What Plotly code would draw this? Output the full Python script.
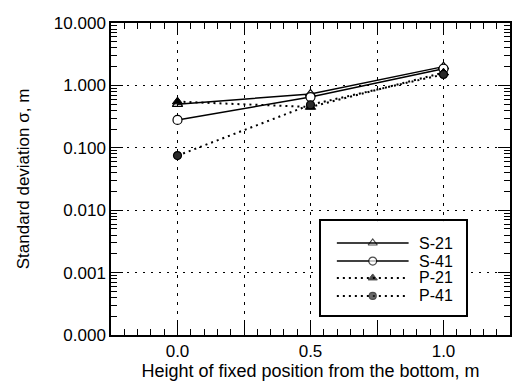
import plotly.graph_objects as go

# Measurement heights (m) and standard deviations (m)
heights = [0.0, 0.5, 1.0]
s21 = [0.50, 0.73, 2.00]
s41 = [0.28, 0.65, 1.85]
p21 = [0.55, 0.45, 1.60]
p41 = [0.075, 0.49, 1.50]

series_names = ["S-21", "S-41", "P-21", "P-41"]
series_values = [s21, s41, p21, p41]

x_tick_vals = [-0.25, 0.0, 0.25, 0.5, 0.75, 1.0, 1.25]
x_tick_text = ["", "0.0", "", "0.5", "", "1.0", ""]
y_tick_vals = [1e-4, 1e-3, 1e-2, 1e-1, 1e0, 1e1]
y_tick_text = ["0.000", "0.001", "0.010", "0.100", "1.000", "10.000"]

FONT = "Liberation Sans, Arial, Helvetica, sans-serif"

styles = {
    "S-21": dict(line=dict(color="black", width=1.5, dash="solid"),
                 marker=dict(symbol="triangle-up-open", size=9, color="black",
                             line=dict(color="black", width=1.2))),
    "S-41": dict(line=dict(color="black", width=1.5, dash="solid"),
                 marker=dict(symbol="circle", size=9, color="white",
                             line=dict(color="black", width=1.2))),
    "P-21": dict(line=dict(color="black", width=2, dash="2px,4px"),
                 marker=dict(symbol="triangle-up", size=9, color="black",
                             line=dict(color="black", width=1))),
    "P-41": dict(line=dict(color="black", width=2, dash="2px,4px"),
                 marker=dict(symbol="circle", size=8, color="#2a2a2a",
                             line=dict(color="black", width=1.2))),
}

fig = go.Figure()

for name, vals in zip(series_names, series_values):
    st = styles[name]
    fig.add_trace(go.Scatter(
        x=heights, y=vals, mode="lines+markers", name=name,
        line=st["line"], marker=st["marker"], showlegend=False,
        xaxis="x", yaxis="y",
    ))

# Invisible copy of one series so the minor-tick x axis gets drawn
fig.add_trace(go.Scatter(
    x=heights, y=s21, mode="markers", marker=dict(opacity=0),
    showlegend=False, hoverinfo="skip", xaxis="x3", yaxis="y",
))

# Legend drawn as its own small boxed subplot (local 0..1 coordinates)
leg_rows = [0.767, 0.575, 0.395, 0.203]
for name, ry in zip(series_names, leg_rows):
    st = styles[name]
    fig.add_trace(go.Scatter(
        x=[0.11, 0.357, 0.604], y=[ry, ry, ry], mode="lines+markers",
        line=st["line"],
        marker=dict(st["marker"], size=[0, st["marker"]["size"] - 1, 0]),
        showlegend=False, hoverinfo="skip", xaxis="x2", yaxis="y2",
    ))
    fig.add_annotation(x=0.659, y=ry, xref="x2", yref="y2", text=name,
                       showarrow=False, xanchor="left", yanchor="middle",
                       font=dict(family=FONT, size=16, color="black"))

fig.update_layout(
    width=515, height=386,
    margin=dict(l=111, r=3, t=23, b=51),
    paper_bgcolor="white", plot_bgcolor="white",
    font=dict(family=FONT, size=17, color="black"),
    xaxis=dict(
        domain=[0, 1], anchor="y",
        range=[-0.25, 1.25], tickmode="array",
        tickvals=x_tick_vals, ticktext=x_tick_text,
        ticks="inside", ticklen=12, tickcolor="#000000", tickwidth=1,
        showline=True, linecolor="black", linewidth=1.5, mirror="ticks",
        showgrid=True, gridcolor="black", gridwidth=1, griddash="3px,6px",
        zeroline=False,
        title=dict(text="Height of fixed position from the bottom, m",
                   font=dict(size=18), standoff=4),
        tickfont=dict(size=17),
    ),
    # minor ticks along the x axis (bottom and top)
    xaxis3=dict(
        overlaying="x", anchor="y", side="bottom",
        range=[-0.25, 1.25], tickmode="linear", tick0=0, dtick=0.05,
        ticks="inside", ticklen=6, tickcolor="#000000", tickwidth=1,
        showticklabels=False, showgrid=False, zeroline=False,
        showline=False, mirror="ticks", fixedrange=True,
    ),
    yaxis=dict(
        domain=[0, 1], anchor="x",
        type="log", range=[-4, 1], tickmode="array",
        tickvals=y_tick_vals, ticktext=y_tick_text,
        ticks="inside", ticklen=12, tickcolor="#000000", tickwidth=1,
        showline=True, linecolor="black", linewidth=1.5, mirror="ticks",
        showgrid=True, gridcolor="black", gridwidth=1, griddash="2px,6px",
        minor=dict(dtick="D1", ticks="inside", ticklen=6, tickcolor="#000000",
                   tickwidth=1, showgrid=False),
        zeroline=False,
        title=dict(text="Standard deviation σ, m", font=dict(size=17),
                   standoff=20),
        tickfont=dict(size=17),
    ),
    xaxis2=dict(domain=[0.526, 0.890], anchor="y2", range=[0, 1],
                showgrid=False, zeroline=False, showticklabels=False,
                ticks="", showline=True, mirror=True, linecolor="black",
                linewidth=2, fixedrange=True),
    yaxis2=dict(domain=[0.064, 0.365], anchor="x2", range=[0, 1],
                showgrid=False, zeroline=False, showticklabels=False,
                ticks="", showline=True, mirror=True, linecolor="black",
                linewidth=2, fixedrange=True),
)

fig.write_html("out.html")
